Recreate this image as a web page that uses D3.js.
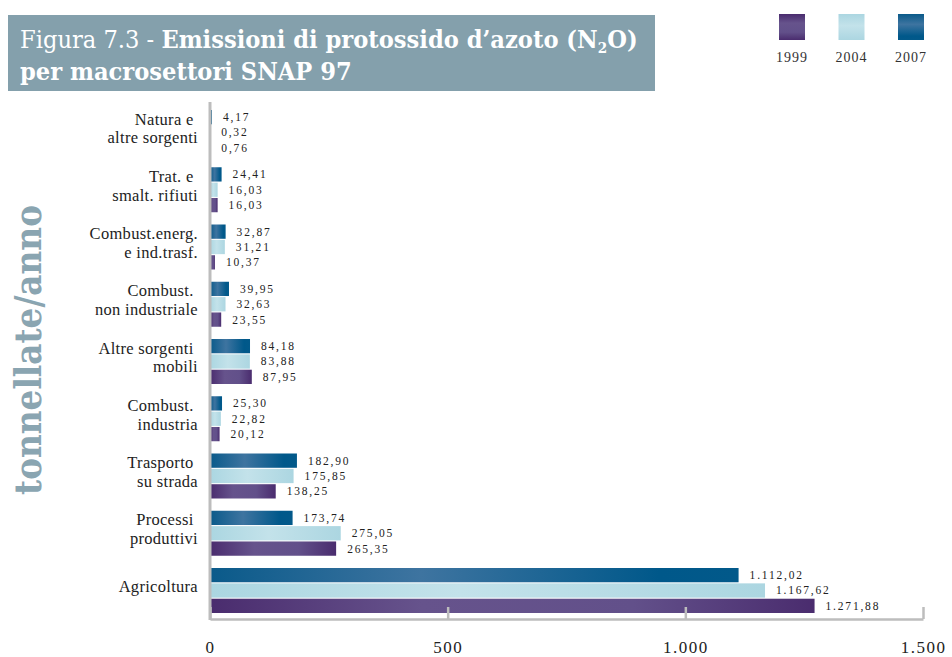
<!DOCTYPE html>
<html>
<head>
<meta charset="utf-8">
<script src="https://cdn.jsdelivr.net/npm/d3@7"></script>
<style>
  body { margin: 0; background: #fff; }
  #chart { width: 952px; height: 657px; }
</style>
</head>
<body>
<div id="chart"></div>
<script>
// categories top to bottom, each split in label lines
const categories = [
  ["Natura e\u00a0", "altre sorgenti"],
  ["Trat. e\u00a0", "smalt. rifiuti"],
  ["Combust.energ.", "e ind.trasf."],
  ["Combust.\u00a0", "non industriale"],
  ["Altre sorgenti\u00a0", "mobili"],
  ["Combust.\u00a0", "industria"],
  ["Trasporto\u00a0", "su strada"],
  ["Processi\u00a0", "produttivi"],
  ["Agricoltura"]
]
const years = ["2007", "2004", "1999"]
const values2007 = [4.17, 24.41, 32.87, 39.95, 84.18, 25.30, 182.90, 173.74, 1112.02]
const values2004 = [0.32, 16.03, 31.21, 32.63, 83.88, 22.82, 175.85, 275.05, 1167.62]
const values1999 = [0.76, 16.03, 10.37, 23.55, 87.95, 20.12, 138.25, 265.35, 1271.88]
const xTicks = [0, 500, 1000, 1500]
const legendYears = ["1999", "2004", "2007"]

const seriesByYear = { "2007": values2007, "2004": values2004, "1999": values1999 }
const rows = categories.map((c, i) => ({
  key: c.join(" "), lines: c,
  vals: years.map(y => ({ year: y, value: seriesByYear[y][i] }))
}))

const it = d3.formatLocale({ decimal: ",", thousands: ".", grouping: [3], currency: ["", "€"] })
const fmtVal = it.format(",.2f")
const fmtTick = it.format(",d")

const svg = d3.select("#chart").append("svg")
  .attr("width", 952).attr("height", 657)

// gradients
const grads = {
  "2007": [[0, "#0a5a8a"], [0.4, "#3e74a0"], [0.85, "#00588a"], [1, "#02598a"]],
  "2004": [[0, "#abd6e1"], [0.45, "#c3e2ea"], [1, "#acd6e1"]],
  "1999": [[0, "#4a2c6e"], [0.35, "#66538c"], [0.7, "#62508a"], [1, "#4a2c6e"]]
}
const defs = svg.append("defs")
Object.entries(grads).forEach(([k, stops]) => {
  const g = defs.append("linearGradient").attr("id", "g" + k)
    .attr("x1", 0).attr("x2", 1).attr("y1", 0).attr("y2", 0)
  stops.forEach(s => g.append("stop").attr("offset", s[0]).attr("stop-color", s[1]))
  const gv = defs.append("linearGradient").attr("id", "gv" + k)
    .attr("x1", 0).attr("x2", 0).attr("y1", 0).attr("y2", 1)
  stops.forEach(s => gv.append("stop").attr("offset", s[0]).attr("stop-color", s[1]))
})

// title box
svg.append("rect").attr("x", 8).attr("y", 15).attr("width", 647).attr("height", 76)
  .attr("fill", "#84a0ac")
const title = svg.append("g").attr("fill", "#fff")
  .style("font-family", "'DejaVu Serif', serif").style("font-size", "25px")
const t1 = title.append("text").attr("x", 0).attr("y", 48)
t1.append("tspan").text("Figura 7.3 - ").style("font-weight", "300")
t1.append("tspan").text("Emissioni di protossido d\u2019azoto (N").style("font-weight", "bold")
t1.append("tspan").text("2").style("font-weight", "bold").style("font-size", "15px").attr("dy", 5)
t1.append("tspan").text("O)").style("font-weight", "bold").attr("dy", -5)
title.append("text").attr("x", 0).attr("y", 80).style("font-weight", "bold")
  .text("per macrosettori SNAP 97")
const tw = t1.node().getComputedTextLength()
title.attr("transform", `translate(20,0) scale(${618 / tw},1)`)

// y label
const yl = svg.append("text")
  .attr("text-anchor", "middle")
  .attr("fill", "#8aa5b1")
  .style("font-family", "'DejaVu Serif', serif")
  .style("font-weight", "bold").style("font-size", "37px")
  .text("tonnellate/anno")
const yw = yl.node().getComputedTextLength()
yl.attr("transform", `translate(41,350) rotate(-90) scale(${290 / yw},1)`)

// legend
const legend = svg.append("g")
const lx = d3.scalePoint().domain(legendYears).range([792, 911])
legend.selectAll("rect").data(legendYears).join("rect")
  .attr("x", d => lx(d) - 13).attr("y", 14).attr("width", 26).attr("height", 26)
  .attr("fill", d => `url(#gv${d})`)
legend.selectAll("text").data(legendYears).join("text")
  .attr("x", d => lx(d)).attr("y", 62).attr("text-anchor", "middle")
  .attr("fill", "#333").style("font-family", "'Liberation Serif', serif")
  .style("font-size", "14px").style("letter-spacing", "1px")
  .text(d => d)

// scales
const x = d3.scaleLinear().domain([0, 1500]).range([210, 923])
const y = d3.scaleBand().domain(rows.map(d => d.key)).range([110, 613]).paddingInner(0.214)
const ySub = d3.scaleBand().domain(years).range([0, y.bandwidth()]).paddingInner(0.07)

const groups = svg.append("g").selectAll("g").data(rows).join("g")
  .attr("transform", d => `translate(0,${y(d.key)})`)

groups.selectAll("rect").data(d => d.vals).join("rect")
  .attr("x", x(0))
  .attr("y", d => ySub(d.year))
  .attr("width", d => x(d.value) - x(0))
  .attr("height", ySub.bandwidth())
  .attr("fill", d => `url(#g${d.year})`)

groups.selectAll("text.val").data(d => d.vals).join("text")
  .attr("class", "val")
  .attr("x", d => x(d.value) + 11)
  .attr("y", d => ySub(d.year) + ySub.bandwidth() / 2)
  .attr("dominant-baseline", "central")
  .attr("fill", "#222")
  .style("font-family", "'Liberation Serif', serif")
  .style("font-size", "11.5px").style("letter-spacing", "1.8px")
  .text(d => fmtVal(d.value))

// category labels
groups.append("text")
  .attr("text-anchor", "end")
  .attr("fill", "#222")
  .style("font-family", "'Liberation Serif', serif")
  .style("font-size", "16.5px").style("letter-spacing", "0.3px")
  .each(function(d) {
    const n = d.lines.length
    const c = y.bandwidth() / 2 - 4
    d3.select(this).selectAll("tspan").data(d.lines).join("tspan")
      .attr("x", 198)
      .attr("y", (l, i) => c + (i - (n - 1) / 2) * 19)
      .attr("dominant-baseline", "central")
      .text(l => l)
  })

// axes
const xAxis = svg.append("g").attr("transform", "translate(0,619)")
  .call(d3.axisBottom(x).tickValues(xTicks).tickFormat(fmtTick)
    .tickSize(-12).tickSizeOuter(0).tickPadding(22))
xAxis.select(".domain").attr("stroke", "#bdbdbd").attr("stroke-width", 2.5)
xAxis.selectAll(".tick line").attr("stroke", "#bdbdbd").attr("stroke-width", 2.5)
xAxis.selectAll(".tick text").attr("fill", "#222")
  .style("font-family", "'Liberation Serif', serif")
  .style("font-size", "17px").style("letter-spacing", "1.5px")

svg.append("line")
  .attr("x1", x(0)).attr("x2", x(0)).attr("y1", 102).attr("y2", 620)
  .attr("stroke", "#bdbdbd").attr("stroke-width", 3)
</script>
</body>
</html>
